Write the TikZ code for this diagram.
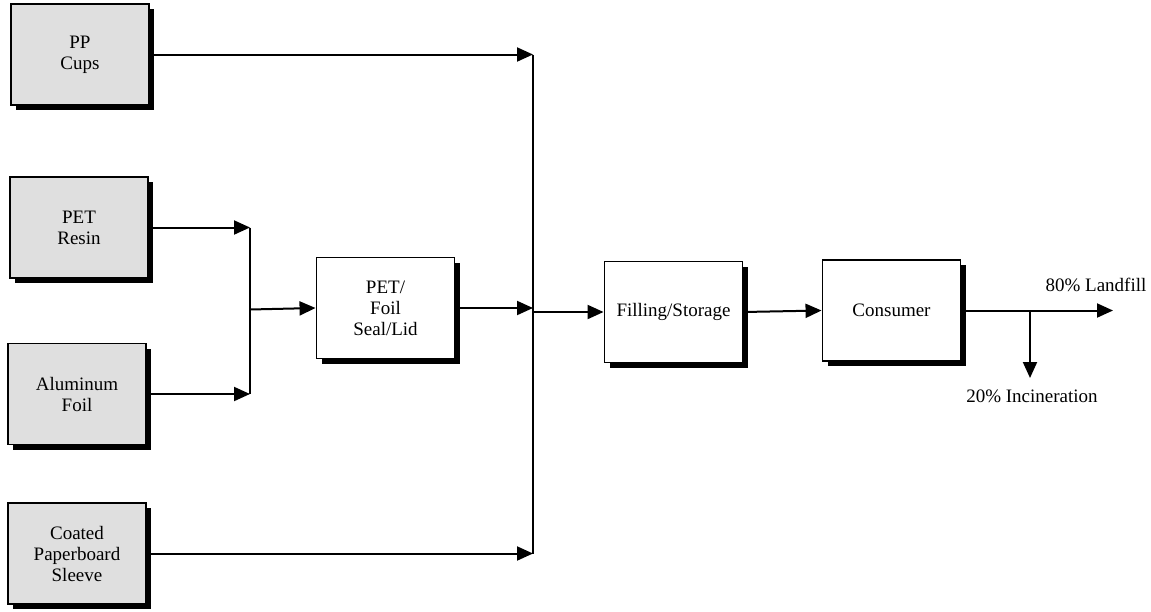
\documentclass[tikz,border=0pt]{standalone}
\usepackage{fontspec}
\setmainfont{Liberation Serif}
\usetikzlibrary{arrows.meta,shadows}
\begin{document}
\begin{tikzpicture}[x=1pt,y=-1pt,
  every node/.style={font=\fontsize{19}{21}\selectfont, align=center},
  boxbase/.style={draw=black, line width=1.9pt, minimum width=138pt, minimum height=101pt, inner sep=0pt,
    drop shadow={shadow xshift=5pt, shadow yshift=-5pt, fill=black, opacity=1}},
  srcbox/.style={boxbase, fill=gray!25},
  procbox/.style={boxbase, fill=white},
  conn/.style={line width=2pt},
  arr/.style={conn, -{Triangle[length=16pt,width=14pt]}}
]
\useasboundingbox (0,0) rectangle (1151,611);

\node[srcbox] (pp) at (80,54.5) {PP\\Cups};
\node[srcbox] (pet) at (79,227.5) {PET\\Resin};
\node[srcbox] (al) at (77,394) {Aluminum\\Foil};
\node[srcbox] (cps) at (77,553.5) {Coated\\Paperboard\\Sleeve};
\node[procbox] (pf) at (385.5,308) {PET/\\Foil\\Seal/Lid};
\node[procbox] (fs) at (673.5,312) {Filling/Storage};
\node[procbox] (cons) at (891.5,310.5) {Consumer};

\coordinate (jtop) at (533,54.5);
\coordinate (jbot) at (533,553.5);
\coordinate (jin) at (533,308);
\coordinate (jout) at (533,312);
\coordinate (btop) at (250,227.5);
\coordinate (bbot) at (250,394);
\coordinate (bmid) at (250,309.5);
\coordinate (split) at (1030,310.5);
\coordinate (landfill) at (1113,310.5);
\coordinate (incin) at (1030,378);

\draw[arr] (pp.east) -- (jtop);
\draw[arr] (cps.east) -- (jbot);
\draw[conn] (jtop) -- (jbot);
\draw[arr] (pet.east) -- (btop);
\draw[arr] (al.east) -- (bbot);
\draw[conn] (btop) -- (bbot);
\draw[arr] (bmid) -- (pf.west);
\draw[arr] (pf.east) -- (jin);
\draw[arr] (jout) -- (fs.west);
\draw[arr] (fs.east) -- (cons.west);
\draw[arr] (cons.east) -- (landfill);
\draw[arr] (split) -- (incin);

\node (lf) at (1096,285) {80\% Landfill};
\node (inc) at (1032,396) {20\% Incineration};
\end{tikzpicture}
\end{document}
